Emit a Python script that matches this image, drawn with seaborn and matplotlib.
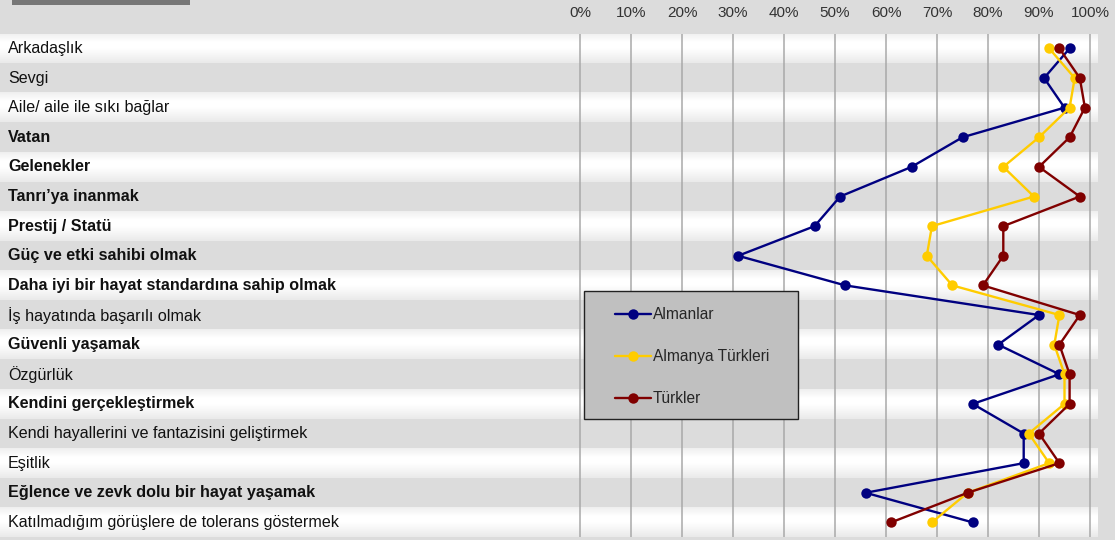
import numpy as np
import pandas as pd
import matplotlib
matplotlib.use("Agg")
import matplotlib.pyplot as plt
from matplotlib.patches import Rectangle
from matplotlib.colors import LinearSegmentedColormap
import seaborn as sns

# values in %
categories = [
    "Arkadaşlık",
    "Sevgi",
    "Aile/ aile ile sıkı bağlar",
    "Vatan",
    "Gelenekler",
    "Tanrı’ya inanmak",
    "Prestij / Statü",
    "Güç ve etki sahibi olmak",
    "Daha iyi bir hayat standardına sahip olmak",
    "İş hayatında başarılı olmak",
    "Güvenli yaşamak",
    "Özgürlük",
    "Kendini gerçekleştirmek",
    "Kendi hayallerini ve fantazisini geliştirmek",
    "Eşitlik",
    "Eğlence ve zevk dolu bir hayat yaşamak",
    "Katılmadığım görüşlere de tolerans göstermek",
]
bold_labels = [False, False, False, True, True, True, True, True, True,
               False, True, False, True, False, False, True, False]

almanlar = [96, 91, 95, 75, 65, 51, 46, 31, 52, 90, 82, 94, 77, 87, 87, 56, 77]
almanya_turkleri = [92, 97, 96, 90, 83, 89, 69, 68, 73, 94, 93, 95, 95, 88, 92, 76, 69]
turkler = [94, 98, 99, 96, 90, 98, 83, 83, 79, 98, 94, 96, 96, 90, 94, 76, 61]

groups = ["Almanlar", "Almanya Türkleri", "Türkler"]
colors = {"Almanlar": "#000080", "Almanya Türkleri": "#FFCC00", "Türkler": "#800000"}
ticks = list(range(0, 101, 10))
tick_labels = [f"{t}%" for t in ticks]

rows = []
for g, vals in zip(groups, [almanlar, almanya_turkleri, turkler]):
    for i, v in enumerate(vals):
        rows.append({"group": g, "row": i, "value": v})
df = pd.DataFrame(rows)

sns.set_style("white")
plt.rcParams["font.family"] = ["Liberation Sans", "DejaVu Sans"]

W, H = 1115, 540
fig = plt.figure(figsize=(W / 100, H / 100), dpi=100)
fig.patch.set_facecolor("#dcdcdc")

# axes covering the label area too: 0% at x=580px, 100% at 1090px
px_per = 5.1
left_px, right_px = 0, 1098
top_px, bot_px = 33.6, 537.2
ax = fig.add_axes([left_px / W, 1 - bot_px / H, (right_px - left_px) / W, (bot_px - top_px) / H])
ax.set_facecolor("#dcdcdc")
xmin = (left_px - 580) / px_per
xmax = (right_px - 580) / px_per
n = len(categories)

# white gradient bands
prof = np.concatenate([np.linspace(0.55, 1.0, 10), np.ones(6), np.linspace(1.0, 0.4, 16)])
band_cmap = LinearSegmentedColormap.from_list("band", ["#dcdcdc", "#ffffff"])
for i in range(0, n, 2):
    ax.imshow(prof[:, None], extent=[xmin, xmax, i + 0.5, i - 0.5], cmap=band_cmap,
              vmin=0, vmax=1, aspect="auto", zorder=0, interpolation="bilinear")

ax.vlines(ticks, -0.5, n - 0.5, color="#a9a9a9", lw=1.1, zorder=1)

sns.lineplot(data=df, x="value", y="row", hue="group", hue_order=groups, palette=colors,
             sort=False, estimator=None, marker="o", markersize=7.5, markeredgewidth=0,
             linewidth=1.7, ax=ax, zorder=3)

leg = ax.get_legend()
handles = leg.legend_handles
labels = [t.get_text() for t in leg.get_texts()]
leg.remove()

ax.set_xlim(xmin, xmax)
ax.set_ylim(n - 0.5, -0.5)
ax.set_xticks(ticks)
ax.set_xticklabels(tick_labels)
ax.set_yticks([])
ax.set_xlabel("")
ax.set_ylabel("")
ax.xaxis.tick_top()
ax.tick_params(axis="x", length=0, pad=10, labelsize=11, labelcolor="#333333")
for s in ax.spines.values():
    s.set_visible(False)

for i, (c, b) in enumerate(zip(categories, bold_labels)):
    ax.text((8 - 580) / px_per, i, c, va="center", ha="left", fontsize=11.6,
            fontweight="bold" if b else "normal", color="#111111", zorder=4)

# legend box
fig.add_artist(Rectangle((584 / W, 1 - 419 / H), 214 / W, 128 / H, transform=fig.transFigure,
                         facecolor="#c0c0c0", edgecolor="#222222", lw=1, zorder=4))
for h in handles:
    h.set_markersize(7.5)
    h.set_markeredgewidth(0)
    h.set_linewidth(1.7)
fl = fig.legend(handles, labels, loc="upper left", bbox_to_anchor=(615 / W, 1 - 307 / H),
                frameon=False, fontsize=11.2, borderpad=0, borderaxespad=0,
                handlelength=2.3, handletextpad=0.15, labelspacing=1.75)
fl.set_zorder(5)

# grey bar at the top left
fig.add_artist(Rectangle((12 / W, 1 - 5 / H), 178 / W, 6 / H, transform=fig.transFigure,
                         facecolor="#777777", edgecolor="none", zorder=4))

fig.savefig("out.png", dpi=100, facecolor=fig.get_facecolor())
